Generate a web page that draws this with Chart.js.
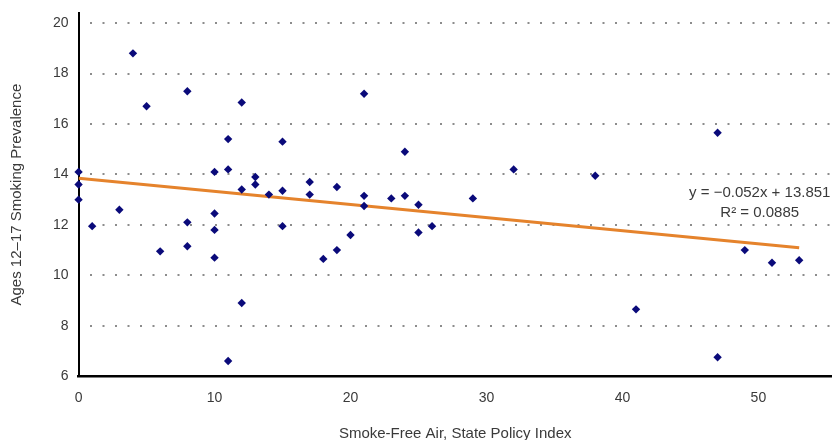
<!DOCTYPE html>
<html>
<head>
<meta charset="utf-8">
<script src="https://cdn.jsdelivr.net/npm/chart.js@4/dist/chart.umd.min.js"></script>
<style>
  html, body { margin: 0; padding: 0; background: #fff; }
  #wrap { width: 836px; height: 440px; }
</style>
</head>
<body>
<div id="wrap"><canvas id="chart"></canvas></div>
<script>
// Smoke-free air policy index vs youth smoking prevalence, one point per state
const policyIndex = [
  0, 0, 0, 1, 3, 4, 5, 6, 8, 8, 8, 10, 10, 10, 10, 11, 11, 11, 12, 12, 12,
  13, 13, 14, 15, 15, 15, 17, 17, 18, 19, 19, 20, 21, 21, 21, 23, 24, 24,
  25, 25, 26, 29, 32, 38, 41, 47, 47, 49, 51, 53
];
const prevalence = [
  14.1, 13.6, 13.0, 11.95, 12.6, 18.8, 16.7, 10.95, 17.3, 12.1, 11.15, 14.1, 12.45, 11.8, 10.7, 15.4, 14.2, 6.6, 16.85, 13.4, 8.9,
  13.9, 13.6, 13.2, 15.3, 13.35, 11.95, 13.7, 13.2, 10.65, 13.5, 11.0, 11.6, 17.2, 13.15, 12.75, 13.05, 14.9, 13.15,
  12.8, 11.7, 11.95, 13.05, 14.2, 13.95, 8.65, 15.65, 6.75, 11.0, 10.5, 10.6
];

// linear trend line as drawn (end points)
const trendX = [0, 53];
const trendY = [13.85, 11.09];
const trendEquation = 'y = \u22120.052x + 13.851';
const trendR2 = 'R\u00B2 = 0.0885';

const xTicks = [0, 10, 20, 30, 40, 50];

const labelColor = '#3a3a3a';
const fontFamily = "'Liberation Sans', Arial, sans-serif";

const equationLabel = {
  id: 'equationLabel',
  afterDatasetsDraw(chart) {
    const {ctx, scales: {x, y}} = chart;
    ctx.save();
    ctx.fillStyle = labelColor;
    ctx.font = '15px ' + fontFamily;
    ctx.textAlign = 'center';
    ctx.textBaseline = 'middle';
    const cx = x.getPixelForValue(50.1);
    ctx.fillText(trendEquation, cx, y.getPixelForValue(13.27));
    ctx.fillText(trendR2, cx, y.getPixelForValue(12.48));
    ctx.restore();
  }
};

new Chart(document.getElementById('chart'), {
  type: 'scatter',
  data: {
    datasets: [
      {
        label: 'States',
        data: policyIndex.map((v, i) => ({x: v, y: prevalence[i]})),
        pointStyle: 'rectRot',
        pointRadius: 4.2,
        pointHoverRadius: 4.2,
        backgroundColor: '#0a0a7a',
        borderColor: '#0a0a7a',
        borderWidth: 0,
        clip: false,
        order: 1
      },
      {
        label: 'Trend',
        type: 'line',
        data: trendX.map((v, i) => ({x: v, y: trendY[i]})),
        borderColor: '#e5832c',
        borderWidth: 3,
        pointRadius: 0,
        fill: false,
        order: 2
      }
    ]
  },
  options: {
    responsive: true,
    maintainAspectRatio: false,
    animation: false,
    layout: {padding: {top: 13, right: 2, left: 8, bottom: -3}},
    plugins: {
      legend: {display: false},
      tooltip: {enabled: false}
    },
    scales: {
      x: {
        type: 'linear',
        min: 0,
        max: 55.4,
        afterBuildTicks: (axis) => {
          axis.ticks = xTicks.map(v => ({value: v}));
        },
        grid: {display: false, drawTicks: false},
        border: {color: '#000', width: 2.5},
        ticks: {
          color: labelColor,
          font: {family: fontFamily, size: 14},
          padding: 14
        },
        title: {
          display: true,
          text: 'Smoke-Free Air, State Policy Index',
          color: labelColor,
          font: {family: fontFamily, size: 15},
          padding: {top: 4, bottom: 0}
        }
      },
      y: {
        min: 6,
        max: 20.4,
        afterFit: (scale) => {
          // the top label sits below the axis end, so no extra room is needed
          scale.paddingTop = 0;
        },
        ticks: {
          stepSize: 2,
          includeBounds: false,
          color: labelColor,
          font: {family: fontFamily, size: 14},
          padding: 10
        },
        grid: {
          drawTicks: false,
          color: '#8c8c8c',
          lineWidth: 2
        },
        border: {
          color: '#000',
          width: 2,
          dash: [2, 10.5],
          dashOffset: 2.5
        },
        title: {
          display: true,
          text: 'Ages 12\u201317 Smoking Prevalence',
          color: labelColor,
          font: {family: fontFamily, size: 15},
          padding: {top: 0, bottom: 17}
        }
      }
    }
  },
  plugins: [equationLabel]
});
</script>
</body>
</html>
